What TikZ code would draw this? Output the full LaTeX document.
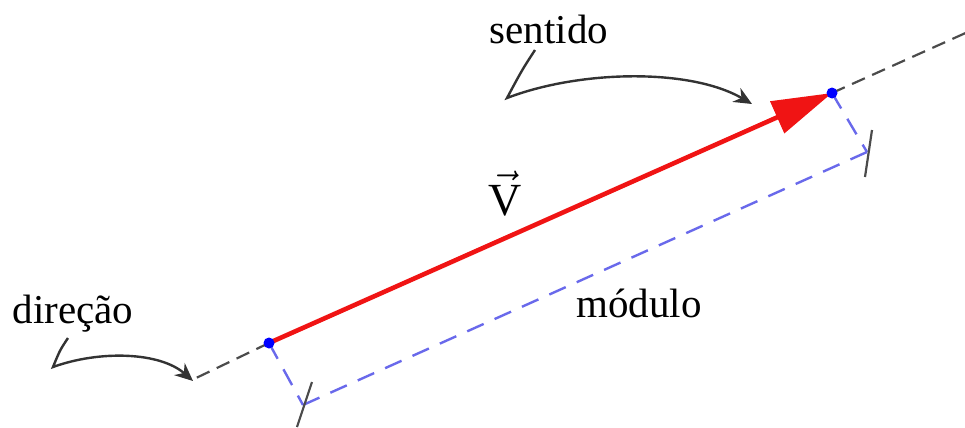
\documentclass[tikz,border=0pt]{standalone}
\usepackage{fontspec}
\setmainfont{Liberation Serif}
\usetikzlibrary{arrows.meta}
\definecolor{dimblue}{RGB}{105,105,235}
\definecolor{vred}{RGB}{240,20,20}
\definecolor{dashgray}{RGB}{75,75,75}
\begin{document}
\begin{tikzpicture}[x=0.5pt,y=-0.5pt,
  lbl/.style={font=\fontsize{20.5pt}{24pt}\selectfont, inner sep=0pt, anchor=base},
  pt/.style={circle, fill=blue, inner sep=0pt, minimum size=5.5pt},
  dirline/.style={dashgray, line width=1.1pt, dash pattern=on 7pt off 4pt},
  dimline/.style={dimblue, line width=1.2pt, dash pattern=on 9pt off 6pt},
  tickline/.style={dashgray, line width=1.1pt},
  callout/.style={black!80, line width=1.2pt, -{Stealth[length=9pt,width=8pt]}},
  vecline/.style={vred, line width=2.3pt, -{Triangle[length=30pt,width=17pt]}}]
\useasboundingbox (0,0) rectangle (965,428);

% key points
\coordinate (A) at (269,343);
\coordinate (B) at (832,93);
\coordinate (dtip) at (194,379);
\coordinate (dend) at (970,31);
\coordinate (C1) at (303,405);
\coordinate (C2) at (867,152);
\coordinate (t1a) at (312,382);
\coordinate (t1b) at (297,427);
\coordinate (t2a) at (872,130);
\coordinate (t2b) at (865,177);

% direction line
\draw[dirline] (A) -- (dtip);
\draw[dirline] (B) -- (dend);

% modulus dimension
\draw[dimline] (A) -- (C1);
\draw[dimline] (B) -- (C2);
\draw[dimline] (C1) -- (C2);
\draw[tickline] (t1a) -- (t1b);
\draw[tickline] (t2a) -- (t2b);

% vector
\draw[vecline] (A) -- (B);
\node[pt] (Adot) at (A) {};
\node[pt] (Bdot) at (B) {};

% labels
\node[lbl] (sentido) at (549,43) {sentido};
\node[lbl] (direcao) at (73,323) {direção};
\node[lbl] (modulo) at (639,317) {módulo};
\node[lbl, font=\fontsize{23pt}{26pt}\selectfont] (vlab) at (505,215) {$\vec{\mbox{V}}$};

% callouts
\coordinate (s0) at (535,50);
\coordinate (s1) at (507,98);
\coordinate (s2) at (752,104);
\draw[callout] (s0) .. controls (522,70) .. (s1) .. controls (580,70) and (690,68) .. (s2);
\coordinate (d0) at (68,338);
\coordinate (d1) at (53,367);
\coordinate (d2) at (193,381);
\draw[callout] (d0) .. controls (60,350) .. (d1) .. controls (100,350) and (160,352) .. (d2);
\end{tikzpicture}
\end{document}
